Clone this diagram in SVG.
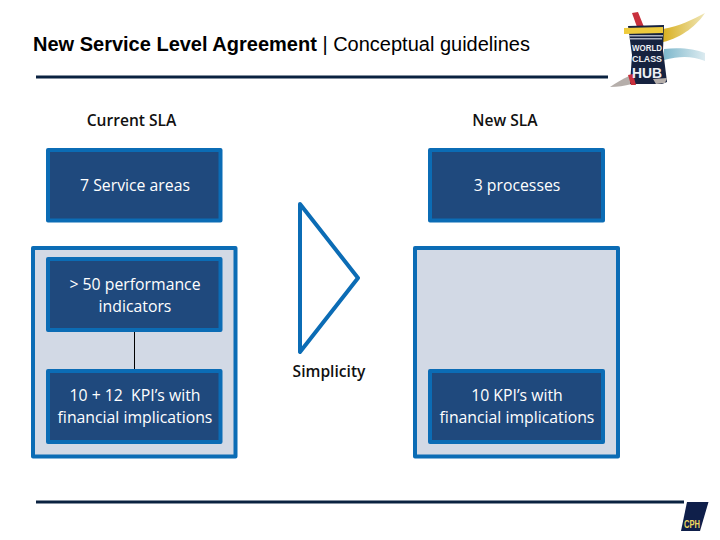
<svg xmlns="http://www.w3.org/2000/svg" width="720" height="540" viewBox="0 0 720 540">
<style>
.box{fill:#1f497d;stroke:#0b6cb5;stroke-width:4;stroke-linejoin:round}
.panel{fill:#d2d9e5;stroke:#0b6cb5;stroke-width:4;stroke-linejoin:round}
.w{font-family:"Open Sans","Noto Sans",sans-serif;font-size:15.8px;fill:#fff;text-anchor:middle;white-space:pre}
.k{font-family:"Open Sans","Noto Sans",sans-serif;font-size:15.6px;font-weight:600;fill:#111;text-anchor:middle}
.rule{stroke:#0a2240;stroke-width:3}
</style>
<defs>
<linearGradient id="gold" x1="0" y1="0" x2="1" y2="0"><stop offset="0" stop-color="#d9b020"/><stop offset="1" stop-color="#efe6b8"/></linearGradient>
<linearGradient id="sky" x1="0" y1="0" x2="1" y2="0"><stop offset="0" stop-color="#7fb8cc"/><stop offset="1" stop-color="#dcebf0"/></linearGradient>
</defs>
<rect width="720" height="540" fill="#fff"/>
<text x="33" y="50.500" font-family="Liberation Sans,Arial,sans-serif" font-size="20" fill="#000"><tspan font-weight="bold">New Service Level Agreement</tspan> | Conceptual guidelines</text>
<g id="rules">
<line class="rule" x1="36" y1="77" x2="608" y2="77"/>
<line class="rule" x1="36" y1="502" x2="684" y2="502"/>
</g>
<g id="logo">
<path d="M663 29C680 26 692 20 705 13C698 24 682 38 663 42Z" fill="url(#gold)"/>
<path d="M664 49C680 47 695 49 705 53L705 61C692 56 680 56 664 60Z" fill="url(#sky)"/>
<path d="M610 87C616 83 622 79 629 76L632 84C624 86 618 87 610 87Z" fill="#b5aeaa"/>
<path d="M632 13L638 12L644 27L637 27Z" fill="#c8303c"/>
<path d="M628 26L664 25L663 50L667 82L662 84L630 84L632 55Z" fill="#16223f"/>
<path d="M624 28L663 27L663 33L624 34Z" fill="#eecb3c"/>
<path d="M628 75L633 74L636 85L631 85Z" fill="#c8303c"/>
<path d="M653 79L667 78L665 83L656 84Z" fill="#b5aeaa"/>
<rect x="629" y="35" width="34" height="1.500" fill="#aab0c0"/>
<rect x="630" y="38" width="32" height="1.500" fill="#aab0c0"/>
<g font-family="Liberation Sans,Arial,sans-serif" font-weight="bold" fill="#eef0f4" text-anchor="middle">
<text x="647" y="51" font-size="9" textLength="30" lengthAdjust="spacingAndGlyphs">WORLD</text>
<text x="647" y="61.500" font-size="9" textLength="30" lengthAdjust="spacingAndGlyphs">CLASS</text>
<text x="647" y="78" font-size="15" textLength="30" lengthAdjust="spacingAndGlyphs">HUB</text>
</g>
</g>
<g id="label-current"><text class="k" x="131.500" y="126">Current SLA</text></g>
<g id="label-new"><text class="k" x="505" y="126">New SLA</text></g>
<g id="panel-left"><rect class="panel" x="33" y="248" width="202.500" height="208.500"/></g>
<g id="panel-right"><rect class="panel" x="415" y="248" width="203" height="208.500"/></g>
<g id="connectors"><line x1="134.500" y1="331" x2="134.500" y2="370" stroke="#000" stroke-width="1"/></g>
<g id="service-areas"><rect class="box" x="48" y="150" width="172.500" height="70.500"/><text class="w" x="135" y="190.500">7 Service areas</text></g>
<g id="processes"><rect class="box" x="430" y="150" width="173" height="70.500"/><text class="w" x="517" y="190.500">3 processes</text></g>
<g id="indicators"><rect class="box" x="48" y="259" width="172.500" height="71"/><text class="w" x="135" y="290">&gt; 50 performance</text><text class="w" x="135" y="312">indicators</text></g>
<g id="kpi-left"><rect class="box" x="48" y="371" width="172.500" height="71"/><text class="w" x="135" y="401">10 + 12  KPI’s with</text><text class="w" x="135" y="423">financial implications</text></g>
<g id="kpi-right"><rect class="box" x="430" y="371" width="173" height="71"/><text class="w" x="517" y="401">10 KPI’s with</text><text class="w" x="517" y="423">financial implications</text></g>
<g id="simplicity"><path d="M300 204L358 278L300 352Z" fill="none" stroke="#0b6cb5" stroke-width="4" stroke-linejoin="round"/><text class="k" x="329" y="377">Simplicity</text></g>
<g id="cpn-logo"><path d="M687 502L708.500 502L700 531L681 531Z" fill="#0f1f4a"/><text x="692" y="528" font-family="Liberation Sans,Arial,sans-serif" font-weight="bold" font-size="11" fill="#f0d860" text-anchor="middle" textLength="16" lengthAdjust="spacingAndGlyphs">CPH</text></g>
</svg>
